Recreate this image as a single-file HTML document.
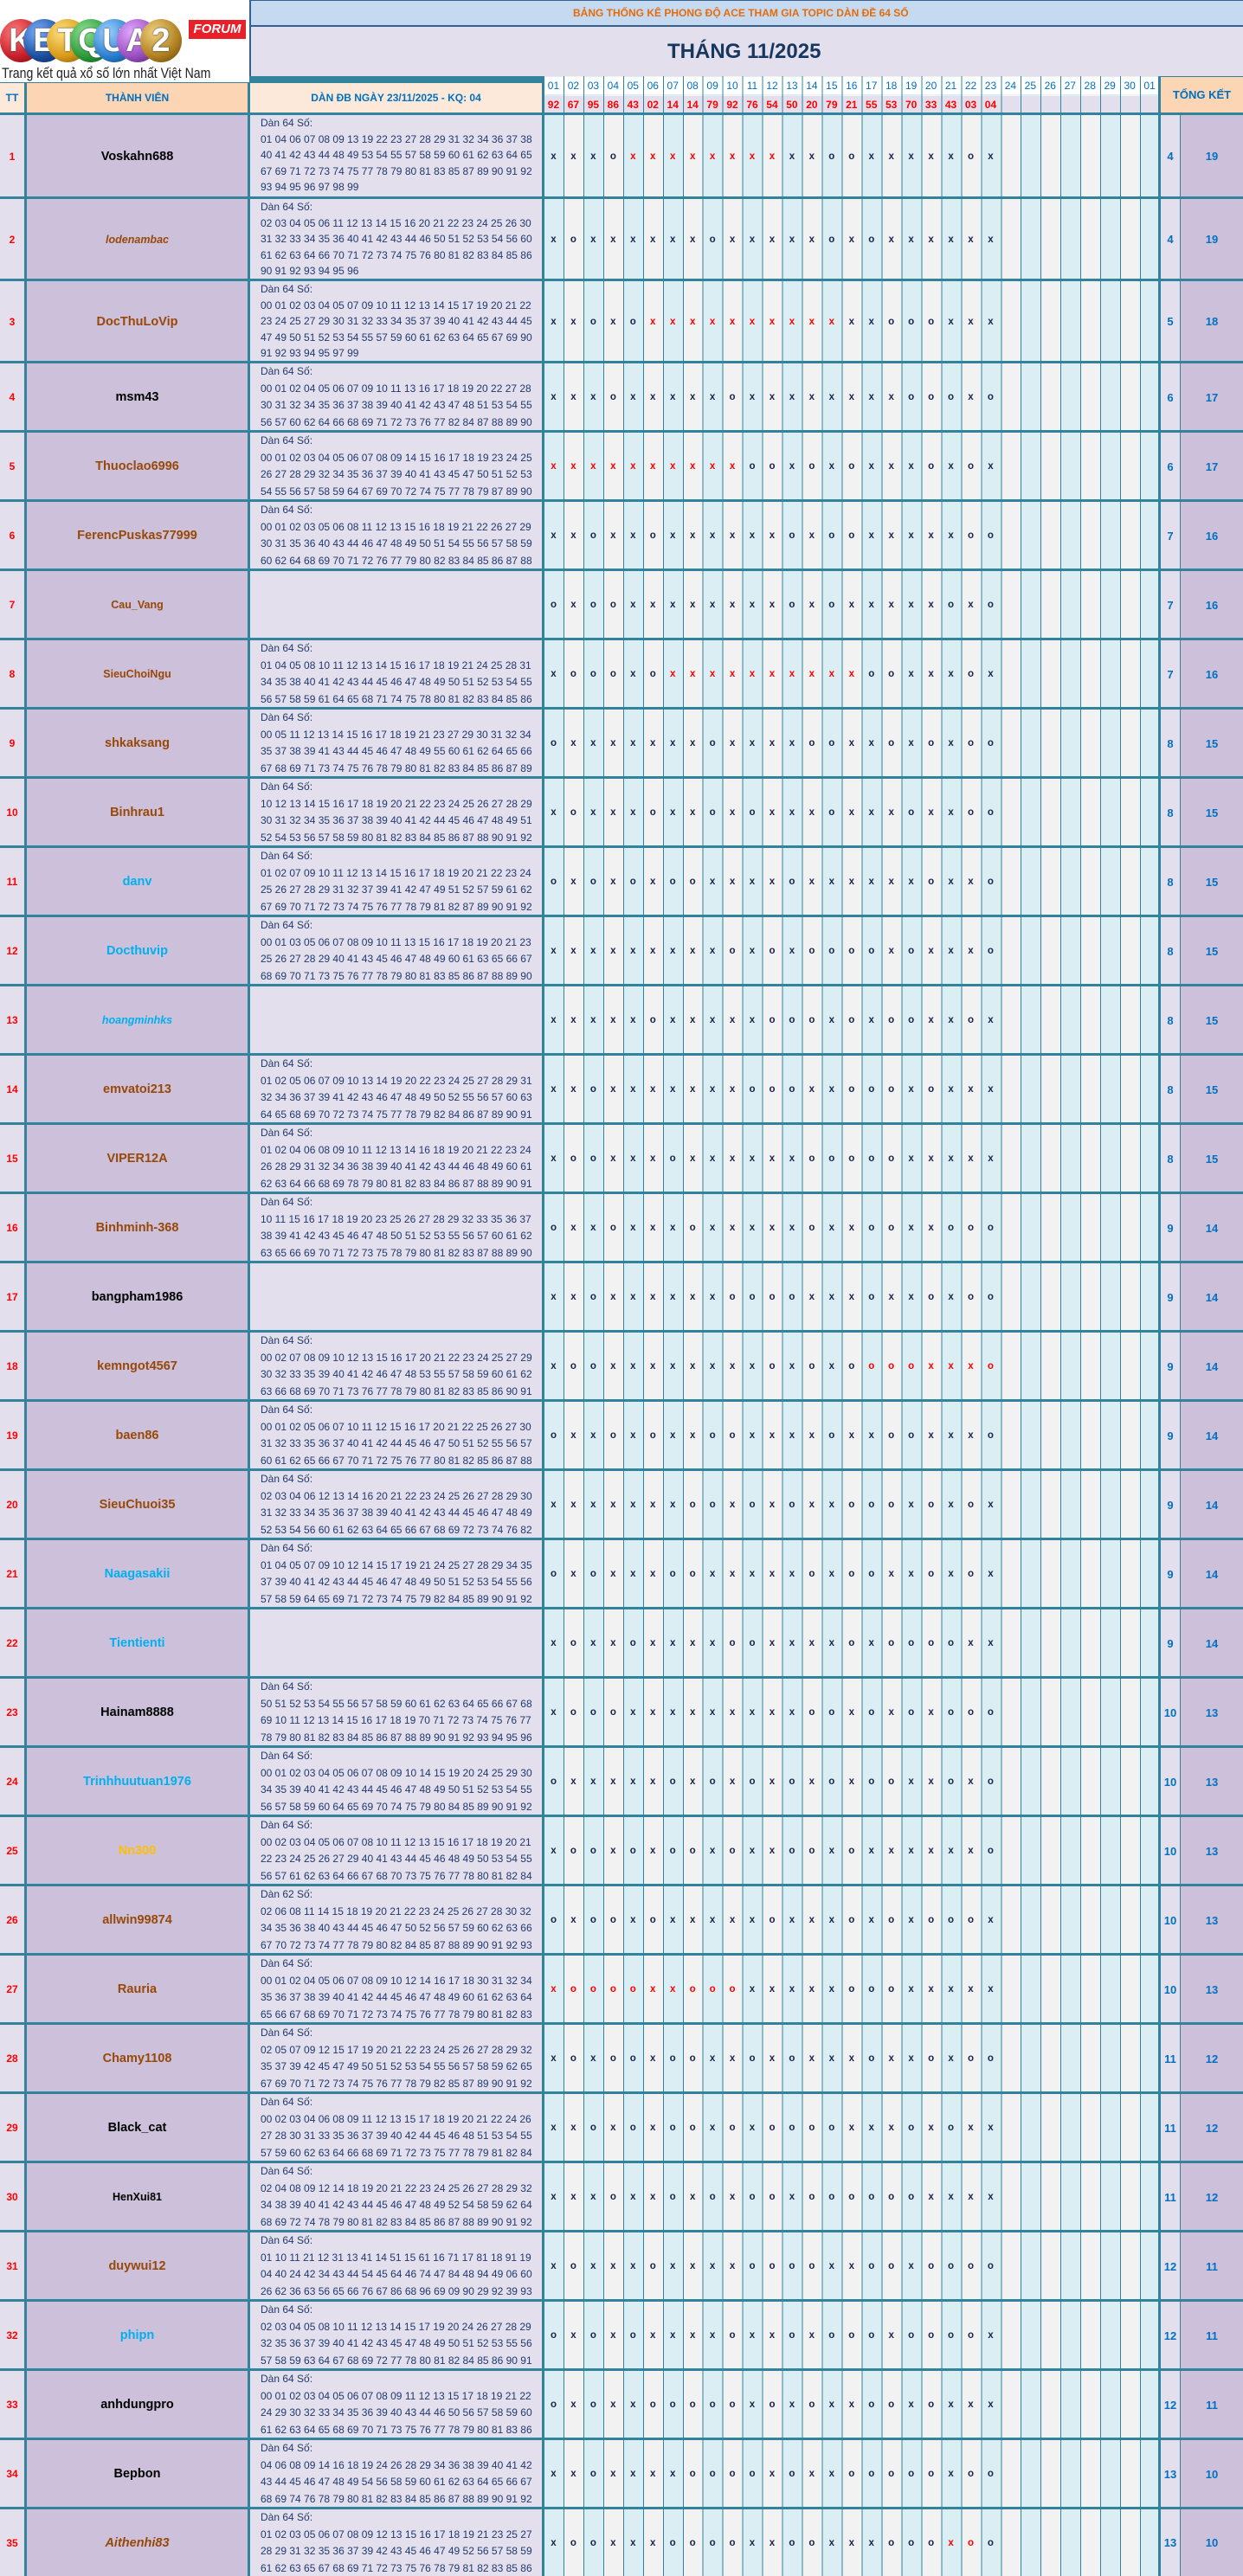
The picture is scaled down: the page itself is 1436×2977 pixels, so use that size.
<!DOCTYPE html>
<html><head><meta charset="utf-8">
<style>
body{margin:0;width:1436px;height:2977px;position:relative;background:#31849b;font-family:"Liberation Sans",sans-serif;overflow:hidden}
.a{position:absolute}
#days{left:628px;top:88px;width:712px;height:2889px;background:repeating-linear-gradient(90deg,#31849b 0 1px,#daeef3 1px 22.968px,#31849b 22.968px 23.968px,#f2f2f2 23.968px 45.935px)}
.r{position:absolute;left:0;width:1436px}
.r>div{position:absolute;top:2px;bottom:0}
.r>.hl{top:-1px;height:3px;bottom:auto;left:0;right:0;background:#31849b}
.tt{left:0;width:28px;background:#e4dfec;color:#f00;font-weight:bold;font-size:12px;display:flex;align-items:center;justify-content:center}
.nm{left:31px;width:255px;background:#ccc0da;display:flex;align-items:center;justify-content:center;font-weight:bold;font-size:14.5px;color:#984807}
.nm.k{color:#000}.nm.lb{color:#00b0f0}.nm.sm{font-size:12.5px}.nm.it{font-style:italic}.nm.y{color:#ffc000}
.dn{left:289px;width:337px;background:#e4dfec;color:#1f3a6e;font-size:12px;line-height:19.5px;padding-left:12px;box-sizing:border-box;white-space:pre;overflow:hidden}
.dn.d5{line-height:18.6px}
.mk{left:628px;width:712px;display:flex;align-items:center;font-weight:bold;font-size:11.5px;color:#17244f}
.mk i,.mk em,.hd i{font-style:normal;width:22.968px;flex:none;text-align:center}
.mk em{color:#f00}
.w,.t{display:flex;align-items:center;justify-content:center;color:#0070c0;font-weight:bold;font-size:13px}
.w{left:1341px;width:22px;background:#e4dfec}
.t{left:1364px;width:72px;background:#ccc0da}
.hd{display:flex;align-items:center;font-size:12px}
.c{position:absolute;top:22px;width:48px;height:50px;border-radius:50%;color:#fff;font-weight:bold;font-size:38px;line-height:50px;text-align:center;font-family:"Liberation Sans Narrow","Liberation Sans",sans-serif;text-shadow:0 0 2px #333}
</style></head><body>
<div id="days" class="a"></div>

<!-- logo -->
<div class="a" style="left:0;top:0;width:288px;height:95px;background:#fff"></div>
<div class="c" style="left:0;background:radial-gradient(circle at 35% 30%,#ff7b7b,#c8202a 60%,#6a0a10)">K</div>
<div class="c" style="left:27px;background:radial-gradient(circle at 35% 30%,#7ab0ff,#1c4fa0 60%,#0a2050)">E</div>
<div class="c" style="left:54px;background:radial-gradient(circle at 35% 30%,#ffe080,#d89a18 60%,#7a5008)">T</div>
<div class="c" style="left:81px;background:radial-gradient(circle at 35% 30%,#8fe08f,#2a9a3a 60%,#0d4a16)">Q</div>
<div class="c" style="left:108px;background:radial-gradient(circle at 35% 30%,#9fd0ff,#2a7fd0 60%,#0d3e70)">U</div>
<div class="c" style="left:135px;background:radial-gradient(circle at 35% 30%,#e0a8ff,#9a4fc0 60%,#4a1a66)">A</div>
<div class="c" style="left:162px;background:radial-gradient(circle at 35% 30%,#f0d080,#b08020 60%,#5a3e08)">2</div>
<div class="a" style="left:218px;top:23px;width:66px;height:22px;background:#e8202a;color:#fff;font-weight:bold;font-style:italic;font-size:15px;line-height:22px;text-align:center">FORUM</div>
<div class="a" style="left:2px;top:75px;font-size:17px;color:#222;white-space:nowrap;transform:scaleX(0.83);transform-origin:0 0">Trang kết quả xổ số lớn nhất Việt Nam</div>

<!-- title bands -->
<div class="a" style="left:288px;top:0;width:2px;height:88px;background:#366092"></div>
<div class="a" style="left:290px;top:0;width:1146px;height:29px;background:#c5d9f1;border-top:1px solid #366092;box-sizing:border-box"></div>
<div class="a" style="left:662px;top:8px;font-size:12px;font-weight:bold;color:#e46c0a;white-space:nowrap">BẢNG THỐNG KÊ PHONG ĐỘ ACE THAM GIA TOPIC DÀN ĐỀ 64 SỐ</div>
<div class="a" style="left:290px;top:29px;width:1146px;height:2px;background:#366092"></div>
<div class="a" style="left:290px;top:31px;width:1146px;height:57px;background:#e4dfec"></div>
<div class="a" style="left:771px;top:46px;font-size:24px;font-weight:bold;color:#17375e;white-space:nowrap">THÁNG 11/2025</div>

<!-- left header -->
<div class="a" style="left:0;top:96px;width:28px;height:34px;background:#fde9d9;color:#0070c0;font-weight:bold;font-size:12px;display:flex;align-items:center;justify-content:center">TT</div>
<div class="a" style="left:31px;top:96px;width:255px;height:34px;background:#fcd5b4;color:#0070c0;font-weight:bold;font-size:12px;display:flex;align-items:center;justify-content:center">THÀNH VIÊN</div>
<div class="a" style="left:289px;top:96px;width:337px;height:34px;background:#fde9d9;color:#0070c0;font-weight:bold;font-size:12px;display:flex;align-items:center;justify-content:center">DÀN ĐB NGÀY 23/11/2025 - KQ: 04</div>

<!-- day header -->
<div class="a hd" style="left:628px;top:89px;width:712px;height:20px;background:repeating-linear-gradient(90deg,#31849b 0 1px,#fff 1px 22.968px);color:#0070c0"><i>01</i><i>02</i><i>03</i><i>04</i><i>05</i><i>06</i><i>07</i><i>08</i><i>09</i><i>10</i><i>11</i><i>12</i><i>13</i><i>14</i><i>15</i><i>16</i><i>17</i><i>18</i><i>19</i><i>20</i><i>21</i><i>22</i><i>23</i><i>24</i><i>25</i><i>26</i><i>27</i><i>28</i><i>29</i><i>30</i><i>01</i></div>
<div class="a hd" style="left:628px;top:111px;width:712px;height:19px;background:repeating-linear-gradient(90deg,#31849b 0 1px,#e4dfec 1px 22.968px);color:#f00;font-weight:bold"><i>92</i><i>67</i><i>95</i><i>86</i><i>43</i><i>02</i><i>14</i><i>14</i><i>79</i><i>92</i><i>76</i><i>54</i><i>50</i><i>20</i><i>79</i><i>21</i><i>55</i><i>53</i><i>70</i><i>33</i><i>43</i><i>03</i><i>04</i></div>
<div class="a" style="left:1341px;top:89px;width:95px;height:41px;background:#fcd5b4;color:#0070c0;font-weight:bold;font-size:13px;display:flex;align-items:center;justify-content:center">TỔNG KẾT</div>

<!-- rows -->
<div class="r" style="top:131px;height:97px"><div class="hl"></div><div class="tt">1</div><div class="nm k">Voskahn688</div><div class="dn d5">Dàn 64 Số:
01 04 06 07 08 09 13 19 22 23 27 28 29 31 32 34 36 37 38
40 41 42 43 44 48 49 53 54 55 57 58 59 60 61 62 63 64 65
67 69 71 72 73 74 75 77 78 79 80 81 83 85 87 89 90 91 92
93 94 95 96 97 98 99</div><div class="mk"><i>x</i><i>x</i><i>x</i><i>o</i><em>x</em><em>x</em><em>x</em><em>x</em><em>x</em><em>x</em><em>x</em><em>x</em><i>x</i><i>x</i><i>o</i><i>o</i><i>x</i><i>x</i><i>x</i><i>x</i><i>x</i><i>o</i><i>x</i></div><div class="w">4</div><div class="t">19</div></div>

<div class="r" style="top:228px;height:95px"><div class="hl"></div><div class="tt">2</div><div class="nm sm it">lodenambac</div><div class="dn d5">Dàn 64 Số:
02 03 04 05 06 11 12 13 14 15 16 20 21 22 23 24 25 26 30
31 32 33 34 35 36 40 41 42 43 44 46 50 51 52 53 54 56 60
61 62 63 64 66 70 71 72 73 74 75 76 80 81 82 83 84 85 86
90 91 92 93 94 95 96</div><div class="mk"><i>x</i><i>o</i><i>x</i><i>x</i><i>x</i><i>x</i><i>x</i><i>x</i><i>o</i><i>x</i><i>x</i><i>x</i><i>x</i><i>x</i><i>o</i><i>x</i><i>o</i><i>x</i><i>x</i><i>x</i><i>x</i><i>x</i><i>x</i></div><div class="w">4</div><div class="t">19</div></div>

<div class="r" style="top:323px;height:95px"><div class="hl"></div><div class="tt">3</div><div class="nm">DocThuLoVip</div><div class="dn d5">Dàn 64 Số:
00 01 02 03 04 05 07 09 10 11 12 13 14 15 17 19 20 21 22
23 24 25 27 29 30 31 32 33 34 35 37 39 40 41 42 43 44 45
47 49 50 51 52 53 54 55 57 59 60 61 62 63 64 65 67 69 90
91 92 93 94 95 97 99</div><div class="mk"><i>x</i><i>x</i><i>o</i><i>x</i><i>o</i><em>x</em><em>x</em><em>x</em><em>x</em><em>x</em><em>x</em><em>x</em><em>x</em><em>x</em><em>x</em><i>x</i><i>x</i><i>o</i><i>o</i><i>o</i><i>x</i><i>x</i><i>x</i></div><div class="w">5</div><div class="t">18</div></div>

<div class="r" style="top:418px;height:80px"><div class="hl"></div><div class="tt">4</div><div class="nm k">msm43</div><div class="dn">Dàn 64 Số:
00 01 02 04 05 06 07 09 10 11 13 16 17 18 19 20 22 27 28
30 31 32 34 35 36 37 38 39 40 41 42 43 47 48 51 53 54 55
56 57 60 62 64 66 68 69 71 72 73 76 77 82 84 87 88 89 90</div><div class="mk"><i>x</i><i>x</i><i>x</i><i>o</i><i>x</i><i>x</i><i>x</i><i>x</i><i>x</i><i>o</i><i>x</i><i>x</i><i>x</i><i>x</i><i>x</i><i>x</i><i>x</i><i>x</i><i>o</i><i>o</i><i>o</i><i>x</i><i>o</i></div><div class="w">6</div><div class="t">17</div></div>

<div class="r" style="top:498px;height:80px"><div class="hl"></div><div class="tt">5</div><div class="nm">Thuoclao6996</div><div class="dn">Dàn 64 Số:
00 01 02 03 04 05 06 07 08 09 14 15 16 17 18 19 23 24 25
26 27 28 29 32 34 35 36 37 39 40 41 43 45 47 50 51 52 53
54 55 56 57 58 59 64 67 69 70 72 74 75 77 78 79 87 89 90</div><div class="mk"><em>x</em><em>x</em><em>x</em><em>x</em><em>x</em><em>x</em><em>x</em><em>x</em><em>x</em><em>x</em><i>o</i><i>o</i><i>x</i><i>o</i><i>x</i><i>o</i><i>x</i><i>x</i><i>x</i><i>o</i><i>x</i><i>o</i><i>x</i></div><div class="w">6</div><div class="t">17</div></div>

<div class="r" style="top:578px;height:80px"><div class="hl"></div><div class="tt">6</div><div class="nm">FerencPuskas77999</div><div class="dn">Dàn 64 Số:
00 01 02 03 05 06 08 11 12 13 15 16 18 19 21 22 26 27 29
30 31 35 36 40 43 44 46 47 48 49 50 51 54 55 56 57 58 59
60 62 64 68 69 70 71 72 76 77 79 80 82 83 84 85 86 87 88</div><div class="mk"><i>x</i><i>x</i><i>o</i><i>x</i><i>x</i><i>o</i><i>x</i><i>x</i><i>x</i><i>x</i><i>x</i><i>x</i><i>o</i><i>x</i><i>o</i><i>o</i><i>x</i><i>x</i><i>x</i><i>x</i><i>x</i><i>o</i><i>o</i></div><div class="w">7</div><div class="t">16</div></div>

<div class="r" style="top:658px;height:80px"><div class="hl"></div><div class="tt">7</div><div class="nm sm">Cau_Vang</div><div class="dn"></div><div class="mk"><i>o</i><i>x</i><i>o</i><i>o</i><i>x</i><i>x</i><i>x</i><i>x</i><i>x</i><i>x</i><i>x</i><i>x</i><i>o</i><i>x</i><i>o</i><i>x</i><i>x</i><i>x</i><i>x</i><i>x</i><i>o</i><i>x</i><i>o</i></div><div class="w">7</div><div class="t">16</div></div>

<div class="r" style="top:738px;height:80px"><div class="hl"></div><div class="tt">8</div><div class="nm sm">SieuChoiNgu</div><div class="dn">Dàn 64 Số:
01 04 05 08 10 11 12 13 14 15 16 17 18 19 21 24 25 28 31
34 35 38 40 41 42 43 44 45 46 47 48 49 50 51 52 53 54 55
56 57 58 59 61 64 65 68 71 74 75 78 80 81 82 83 84 85 86</div><div class="mk"><i>x</i><i>o</i><i>o</i><i>o</i><i>x</i><i>o</i><em>x</em><em>x</em><em>x</em><em>x</em><em>x</em><em>x</em><em>x</em><em>x</em><em>x</em><em>x</em><i>o</i><i>o</i><i>x</i><i>x</i><i>x</i><i>o</i><i>x</i></div><div class="w">7</div><div class="t">16</div></div>

<div class="r" style="top:818px;height:80px"><div class="hl"></div><div class="tt">9</div><div class="nm">shkaksang</div><div class="dn">Dàn 64 Số:
00 05 11 12 13 14 15 16 17 18 19 21 23 27 29 30 31 32 34
35 37 38 39 41 43 44 45 46 47 48 49 55 60 61 62 64 65 66
67 68 69 71 73 74 75 76 78 79 80 81 82 83 84 85 86 87 89</div><div class="mk"><i>o</i><i>x</i><i>x</i><i>x</i><i>x</i><i>x</i><i>x</i><i>x</i><i>o</i><i>x</i><i>x</i><i>x</i><i>x</i><i>o</i><i>o</i><i>x</i><i>x</i><i>o</i><i>x</i><i>o</i><i>x</i><i>o</i><i>o</i></div><div class="w">8</div><div class="t">15</div></div>

<div class="r" style="top:898px;height:80px"><div class="hl"></div><div class="tt">10</div><div class="nm">Binhrau1</div><div class="dn">Dàn 64 Số:
10 12 13 14 15 16 17 18 19 20 21 22 23 24 25 26 27 28 29
30 31 32 34 35 36 37 38 39 40 41 42 44 45 46 47 48 49 51
52 54 53 56 57 58 59 80 81 82 83 84 85 86 87 88 90 91 92</div><div class="mk"><i>x</i><i>o</i><i>x</i><i>x</i><i>x</i><i>o</i><i>x</i><i>x</i><i>o</i><i>x</i><i>o</i><i>x</i><i>x</i><i>x</i><i>o</i><i>x</i><i>x</i><i>x</i><i>o</i><i>x</i><i>x</i><i>o</i><i>o</i></div><div class="w">8</div><div class="t">15</div></div>

<div class="r" style="top:978px;height:80px"><div class="hl"></div><div class="tt">11</div><div class="nm lb">danv</div><div class="dn">Dàn 64 Số:
01 02 07 09 10 11 12 13 14 15 16 17 18 19 20 21 22 23 24
25 26 27 28 29 31 32 37 39 41 42 47 49 51 52 57 59 61 62
67 69 70 71 72 73 74 75 76 77 78 79 81 82 87 89 90 91 92</div><div class="mk"><i>o</i><i>x</i><i>o</i><i>x</i><i>o</i><i>x</i><i>o</i><i>o</i><i>x</i><i>x</i><i>x</i><i>x</i><i>o</i><i>x</i><i>x</i><i>x</i><i>x</i><i>x</i><i>x</i><i>o</i><i>x</i><i>x</i><i>o</i></div><div class="w">8</div><div class="t">15</div></div>

<div class="r" style="top:1058px;height:80px"><div class="hl"></div><div class="tt">12</div><div class="nm lb">Docthuvip</div><div class="dn">Dàn 64 Số:
00 01 03 05 06 07 08 09 10 11 13 15 16 17 18 19 20 21 23
25 26 27 28 29 40 41 43 45 46 47 48 49 60 61 63 65 66 67
68 69 70 71 73 75 76 77 78 79 80 81 83 85 86 87 88 89 90</div><div class="mk"><i>x</i><i>x</i><i>x</i><i>x</i><i>x</i><i>x</i><i>x</i><i>x</i><i>x</i><i>o</i><i>x</i><i>o</i><i>x</i><i>o</i><i>o</i><i>o</i><i>o</i><i>x</i><i>o</i><i>x</i><i>x</i><i>x</i><i>o</i></div><div class="w">8</div><div class="t">15</div></div>

<div class="r" style="top:1138px;height:80px"><div class="hl"></div><div class="tt">13</div><div class="nm lb sm it">hoangminhks</div><div class="dn"></div><div class="mk"><i>x</i><i>x</i><i>x</i><i>x</i><i>x</i><i>o</i><i>x</i><i>x</i><i>x</i><i>x</i><i>x</i><i>o</i><i>o</i><i>o</i><i>x</i><i>o</i><i>x</i><i>o</i><i>o</i><i>x</i><i>x</i><i>o</i><i>x</i></div><div class="w">8</div><div class="t">15</div></div>

<div class="r" style="top:1218px;height:80px"><div class="hl"></div><div class="tt">14</div><div class="nm">emvatoi213</div><div class="dn">Dàn 64 Số:
01 02 05 06 07 09 10 13 14 19 20 22 23 24 25 27 28 29 31
32 34 36 37 39 41 42 43 46 47 48 49 50 52 55 56 57 60 63
64 65 68 69 70 72 73 74 75 77 78 79 82 84 86 87 89 90 91</div><div class="mk"><i>x</i><i>x</i><i>o</i><i>x</i><i>x</i><i>x</i><i>x</i><i>x</i><i>x</i><i>x</i><i>o</i><i>o</i><i>o</i><i>x</i><i>x</i><i>o</i><i>o</i><i>o</i><i>x</i><i>o</i><i>x</i><i>x</i><i>x</i></div><div class="w">8</div><div class="t">15</div></div>

<div class="r" style="top:1298px;height:80px"><div class="hl"></div><div class="tt">15</div><div class="nm">VIPER12A</div><div class="dn">Dàn 64 Số:
01 02 04 06 08 09 10 11 12 13 14 16 18 19 20 21 22 23 24
26 28 29 31 32 34 36 38 39 40 41 42 43 44 46 48 49 60 61
62 63 64 66 68 69 78 79 80 81 82 83 84 86 87 88 89 90 91</div><div class="mk"><i>x</i><i>o</i><i>o</i><i>x</i><i>x</i><i>x</i><i>o</i><i>x</i><i>x</i><i>x</i><i>x</i><i>x</i><i>x</i><i>o</i><i>o</i><i>o</i><i>o</i><i>o</i><i>x</i><i>x</i><i>x</i><i>x</i><i>x</i></div><div class="w">8</div><div class="t">15</div></div>

<div class="r" style="top:1378px;height:80px"><div class="hl"></div><div class="tt">16</div><div class="nm">Binhminh-368</div><div class="dn">Dàn 64 Số:
10 11 15 16 17 18 19 20 23 25 26 27 28 29 32 33 35 36 37
38 39 41 42 43 45 46 47 48 50 51 52 53 55 56 57 60 61 62
63 65 66 69 70 71 72 73 75 78 79 80 81 82 83 87 88 89 90</div><div class="mk"><i>o</i><i>x</i><i>x</i><i>o</i><i>x</i><i>x</i><i>x</i><i>o</i><i>x</i><i>x</i><i>x</i><i>x</i><i>x</i><i>o</i><i>x</i><i>x</i><i>o</i><i>o</i><i>x</i><i>x</i><i>o</i><i>o</i><i>o</i></div><div class="w">9</div><div class="t">14</div></div>

<div class="r" style="top:1458px;height:80px"><div class="hl"></div><div class="tt">17</div><div class="nm k">bangpham1986</div><div class="dn"></div><div class="mk"><i>x</i><i>x</i><i>o</i><i>x</i><i>x</i><i>x</i><i>x</i><i>x</i><i>x</i><i>o</i><i>o</i><i>o</i><i>o</i><i>x</i><i>x</i><i>x</i><i>o</i><i>x</i><i>x</i><i>o</i><i>x</i><i>o</i><i>o</i></div><div class="w">9</div><div class="t">14</div></div>

<div class="r" style="top:1538px;height:80px"><div class="hl"></div><div class="tt">18</div><div class="nm">kemngot4567</div><div class="dn">Dàn 64 Số:
00 02 07 08 09 10 12 13 15 16 17 20 21 22 23 24 25 27 29
30 32 33 35 39 40 41 42 46 47 48 53 55 57 58 59 60 61 62
63 66 68 69 70 71 73 76 77 78 79 80 81 82 83 85 86 90 91</div><div class="mk"><i>x</i><i>o</i><i>o</i><i>x</i><i>x</i><i>x</i><i>x</i><i>x</i><i>x</i><i>x</i><i>x</i><i>o</i><i>x</i><i>o</i><i>x</i><i>o</i><em>o</em><em>o</em><em>o</em><em>x</em><em>x</em><em>x</em><em>o</em></div><div class="w">9</div><div class="t">14</div></div>

<div class="r" style="top:1618px;height:80px"><div class="hl"></div><div class="tt">19</div><div class="nm">baen86</div><div class="dn">Dàn 64 Số:
00 01 02 05 06 07 10 11 12 15 16 17 20 21 22 25 26 27 30
31 32 33 35 36 37 40 41 42 44 45 46 47 50 51 52 55 56 57
60 61 62 65 66 67 70 71 72 75 76 77 80 81 82 85 86 87 88</div><div class="mk"><i>o</i><i>x</i><i>x</i><i>o</i><i>x</i><i>o</i><i>x</i><i>x</i><i>o</i><i>o</i><i>x</i><i>x</i><i>x</i><i>x</i><i>o</i><i>x</i><i>x</i><i>o</i><i>o</i><i>x</i><i>x</i><i>x</i><i>o</i></div><div class="w">9</div><div class="t">14</div></div>

<div class="r" style="top:1698px;height:80px"><div class="hl"></div><div class="tt">20</div><div class="nm">SieuChuoi35</div><div class="dn">Dàn 64 Số:
02 03 04 06 12 13 14 16 20 21 22 23 24 25 26 27 28 29 30
31 32 33 34 35 36 37 38 39 40 41 42 43 44 45 46 47 48 49
52 53 54 56 60 61 62 63 64 65 66 67 68 69 72 73 74 76 82</div><div class="mk"><i>x</i><i>x</i><i>x</i><i>x</i><i>x</i><i>x</i><i>x</i><i>o</i><i>o</i><i>x</i><i>o</i><i>x</i><i>o</i><i>x</i><i>x</i><i>o</i><i>o</i><i>o</i><i>x</i><i>o</i><i>x</i><i>o</i><i>x</i></div><div class="w">9</div><div class="t">14</div></div>

<div class="r" style="top:1778px;height:80px"><div class="hl"></div><div class="tt">21</div><div class="nm lb">Naagasakii</div><div class="dn">Dàn 64 Số:
01 04 05 07 09 10 12 14 15 17 19 21 24 25 27 28 29 34 35
37 39 40 41 42 43 44 45 46 47 48 49 50 51 52 53 54 55 56
57 58 59 64 65 69 71 72 73 74 75 79 82 84 85 89 90 91 92</div><div class="mk"><i>o</i><i>x</i><i>o</i><i>x</i><i>x</i><i>x</i><i>o</i><i>o</i><i>x</i><i>x</i><i>x</i><i>x</i><i>x</i><i>o</i><i>x</i><i>o</i><i>o</i><i>x</i><i>x</i><i>o</i><i>x</i><i>o</i><i>x</i></div><div class="w">9</div><div class="t">14</div></div>

<div class="r" style="top:1858px;height:80px"><div class="hl"></div><div class="tt">22</div><div class="nm lb">Tientienti</div><div class="dn"></div><div class="mk"><i>x</i><i>o</i><i>x</i><i>x</i><i>o</i><i>x</i><i>x</i><i>x</i><i>x</i><i>o</i><i>o</i><i>x</i><i>x</i><i>x</i><i>x</i><i>o</i><i>x</i><i>o</i><i>o</i><i>o</i><i>o</i><i>x</i><i>x</i></div><div class="w">9</div><div class="t">14</div></div>

<div class="r" style="top:1938px;height:80px"><div class="hl"></div><div class="tt">23</div><div class="nm k">Hainam8888</div><div class="dn">Dàn 64 Số:
50 51 52 53 54 55 56 57 58 59 60 61 62 63 64 65 66 67 68
69 10 11 12 13 14 15 16 17 18 19 70 71 72 73 74 75 76 77
78 79 80 81 82 83 84 85 86 87 88 89 90 91 92 93 94 95 96</div><div class="mk"><i>x</i><i>o</i><i>o</i><i>o</i><i>x</i><i>x</i><i>x</i><i>x</i><i>x</i><i>x</i><i>x</i><i>x</i><i>x</i><i>o</i><i>o</i><i>x</i><i>o</i><i>x</i><i>o</i><i>x</i><i>o</i><i>o</i><i>o</i></div><div class="w">10</div><div class="t">13</div></div>

<div class="r" style="top:2018px;height:80px"><div class="hl"></div><div class="tt">24</div><div class="nm lb">Trinhhuutuan1976</div><div class="dn">Dàn 64 Số:
00 01 02 03 04 05 06 07 08 09 10 14 15 19 20 24 25 29 30
34 35 39 40 41 42 43 44 45 46 47 48 49 50 51 52 53 54 55
56 57 58 59 60 64 65 69 70 74 75 79 80 84 85 89 90 91 92</div><div class="mk"><i>o</i><i>x</i><i>x</i><i>x</i><i>x</i><i>x</i><i>o</i><i>x</i><i>o</i><i>x</i><i>o</i><i>x</i><i>o</i><i>x</i><i>o</i><i>x</i><i>o</i><i>o</i><i>x</i><i>x</i><i>o</i><i>x</i><i>o</i></div><div class="w">10</div><div class="t">13</div></div>

<div class="r" style="top:2098px;height:80px"><div class="hl"></div><div class="tt">25</div><div class="nm y">Nn300</div><div class="dn">Dàn 64 Số:
00 02 03 04 05 06 07 08 10 11 12 13 15 16 17 18 19 20 21
22 23 24 25 26 27 29 40 41 43 44 45 46 48 49 50 53 54 55
56 57 61 62 63 64 66 67 68 70 73 75 76 77 78 80 81 82 84</div><div class="mk"><i>x</i><i>o</i><i>o</i><i>x</i><i>o</i><i>x</i><i>o</i><i>o</i><i>x</i><i>o</i><i>x</i><i>x</i><i>o</i><i>o</i><i>x</i><i>o</i><i>x</i><i>x</i><i>x</i><i>x</i><i>x</i><i>x</i><i>o</i></div><div class="w">10</div><div class="t">13</div></div>

<div class="r" style="top:2178px;height:80px"><div class="hl"></div><div class="tt">26</div><div class="nm">allwin99874</div><div class="dn">Dàn 62 Số:
02 06 08 11 14 15 18 19 20 21 22 23 24 25 26 27 28 30 32
34 35 36 38 40 43 44 45 46 47 50 52 56 57 59 60 62 63 66
67 70 72 73 74 77 78 79 80 82 84 85 87 88 89 90 91 92 93</div><div class="mk"><i>o</i><i>x</i><i>o</i><i>o</i><i>x</i><i>o</i><i>x</i><i>x</i><i>x</i><i>x</i><i>x</i><i>o</i><i>x</i><i>x</i><i>x</i><i>o</i><i>x</i><i>o</i><i>x</i><i>o</i><i>o</i><i>o</i><i>x</i></div><div class="w">10</div><div class="t">13</div></div>

<div class="r" style="top:2258px;height:80px"><div class="hl"></div><div class="tt">27</div><div class="nm">Rauria</div><div class="dn">Dàn 64 Số:
00 01 02 04 05 06 07 08 09 10 12 14 16 17 18 30 31 32 34
35 36 37 38 39 40 41 42 44 45 46 47 48 49 60 61 62 63 64
65 66 67 68 69 70 71 72 73 74 75 76 77 78 79 80 81 82 83</div><div class="mk"><em>x</em><em>o</em><em>o</em><em>o</em><em>o</em><em>x</em><em>x</em><em>o</em><em>o</em><em>o</em><i>x</i><i>x</i><i>x</i><i>x</i><i>x</i><i>o</i><i>o</i><i>o</i><i>x</i><i>x</i><i>x</i><i>x</i><i>x</i></div><div class="w">10</div><div class="t">13</div></div>

<div class="r" style="top:2338px;height:80px"><div class="hl"></div><div class="tt">28</div><div class="nm">Chamy1108</div><div class="dn">Dàn 64 Số:
02 05 07 09 12 15 17 19 20 21 22 23 24 25 26 27 28 29 32
35 37 39 42 45 47 49 50 51 52 53 54 55 56 57 58 59 62 65
67 69 70 71 72 73 74 75 76 77 78 79 82 85 87 89 90 91 92</div><div class="mk"><i>x</i><i>o</i><i>x</i><i>o</i><i>o</i><i>x</i><i>o</i><i>o</i><i>x</i><i>x</i><i>o</i><i>x</i><i>o</i><i>x</i><i>x</i><i>x</i><i>o</i><i>x</i><i>x</i><i>o</i><i>x</i><i>o</i><i>o</i></div><div class="w">11</div><div class="t">12</div></div>

<div class="r" style="top:2418px;height:80px"><div class="hl"></div><div class="tt">29</div><div class="nm k">Black_cat</div><div class="dn">Dàn 64 Số:
00 02 03 04 06 08 09 11 12 13 15 17 18 19 20 21 22 24 26
27 28 30 31 33 35 36 37 39 40 42 44 45 46 48 51 53 54 55
57 59 60 62 63 64 66 68 69 71 72 73 75 77 78 79 81 82 84</div><div class="mk"><i>x</i><i>x</i><i>o</i><i>x</i><i>o</i><i>x</i><i>o</i><i>o</i><i>x</i><i>o</i><i>x</i><i>o</i><i>o</i><i>o</i><i>o</i><i>x</i><i>x</i><i>x</i><i>o</i><i>x</i><i>o</i><i>x</i><i>x</i></div><div class="w">11</div><div class="t">12</div></div>

<div class="r" style="top:2498px;height:80px"><div class="hl"></div><div class="tt">30</div><div class="nm k sm">HenXui81</div><div class="dn">Dàn 64 Số:
02 04 08 09 12 14 18 19 20 21 22 23 24 25 26 27 28 29 32
34 38 39 40 41 42 43 44 45 46 47 48 49 52 54 58 59 62 64
68 69 72 74 78 79 80 81 82 83 84 85 86 87 88 89 90 91 92</div><div class="mk"><i>x</i><i>x</i><i>x</i><i>o</i><i>x</i><i>x</i><i>o</i><i>x</i><i>o</i><i>x</i><i>o</i><i>o</i><i>x</i><i>o</i><i>o</i><i>o</i><i>o</i><i>o</i><i>o</i><i>x</i><i>x</i><i>x</i><i>x</i></div><div class="w">11</div><div class="t">12</div></div>

<div class="r" style="top:2578px;height:80px"><div class="hl"></div><div class="tt">31</div><div class="nm">duywui12</div><div class="dn">Dàn 64 Số:
01 10 11 21 12 31 13 41 14 51 15 61 16 71 17 81 18 91 19
04 40 24 42 34 43 44 54 45 64 46 74 47 84 48 94 49 06 60
26 62 36 63 56 65 66 76 67 86 68 96 69 09 90 29 92 39 93</div><div class="mk"><i>x</i><i>o</i><i>x</i><i>x</i><i>x</i><i>o</i><i>x</i><i>x</i><i>x</i><i>x</i><i>o</i><i>o</i><i>o</i><i>o</i><i>x</i><i>x</i><i>o</i><i>o</i><i>x</i><i>o</i><i>o</i><i>o</i><i>o</i></div><div class="w">12</div><div class="t">11</div></div>

<div class="r" style="top:2658px;height:80px"><div class="hl"></div><div class="tt">32</div><div class="nm lb">phipn</div><div class="dn">Dàn 64 Số:
02 03 04 05 08 10 11 12 13 14 15 17 19 20 24 26 27 28 29
32 35 36 37 39 40 41 42 43 45 47 48 49 50 51 52 53 55 56
57 58 59 63 64 67 68 69 72 77 78 80 81 82 84 85 86 90 91</div><div class="mk"><i>o</i><i>x</i><i>o</i><i>x</i><i>o</i><i>x</i><i>x</i><i>x</i><i>x</i><i>o</i><i>x</i><i>x</i><i>o</i><i>x</i><i>o</i><i>o</i><i>o</i><i>x</i><i>o</i><i>o</i><i>o</i><i>o</i><i>x</i></div><div class="w">12</div><div class="t">11</div></div>

<div class="r" style="top:2738px;height:80px"><div class="hl"></div><div class="tt">33</div><div class="nm k">anhdungpro</div><div class="dn">Dàn 64 Số:
00 01 02 03 04 05 06 07 08 09 11 12 13 15 17 18 19 21 22
24 29 30 32 33 34 35 36 39 40 43 44 46 50 56 57 58 59 60
61 62 63 64 65 68 69 70 71 73 75 76 77 78 79 80 81 83 86</div><div class="mk"><i>o</i><i>x</i><i>o</i><i>x</i><i>x</i><i>o</i><i>o</i><i>o</i><i>o</i><i>o</i><i>x</i><i>o</i><i>x</i><i>o</i><i>x</i><i>x</i><i>o</i><i>o</i><i>x</i><i>o</i><i>x</i><i>x</i><i>x</i></div><div class="w">12</div><div class="t">11</div></div>

<div class="r" style="top:2818px;height:80px"><div class="hl"></div><div class="tt">34</div><div class="nm k">Bepbon</div><div class="dn">Dàn 64 Số:
04 06 08 09 14 16 18 19 24 26 28 29 34 36 38 39 40 41 42
43 44 45 46 47 48 49 54 56 58 59 60 61 62 63 64 65 66 67
68 69 74 76 78 79 80 81 82 83 84 85 86 87 88 89 90 91 92</div><div class="mk"><i>x</i><i>x</i><i>o</i><i>x</i><i>x</i><i>x</i><i>x</i><i>o</i><i>o</i><i>o</i><i>o</i><i>x</i><i>o</i><i>x</i><i>x</i><i>o</i><i>o</i><i>o</i><i>o</i><i>o</i><i>x</i><i>o</i><i>o</i></div><div class="w">13</div><div class="t">10</div></div>

<div class="r" style="top:2898px;height:79px"><div class="hl"></div><div class="tt">35</div><div class="nm it">Aithenhi83</div><div class="dn">Dàn 64 Số:
01 02 03 05 06 07 08 09 12 13 15 16 17 18 19 21 23 25 27
28 29 31 32 35 36 37 39 42 43 45 46 47 49 52 56 57 58 59
61 62 63 65 67 68 69 71 72 73 75 76 78 79 81 82 83 85 86</div><div class="mk"><i>x</i><i>o</i><i>o</i><i>x</i><i>x</i><i>x</i><i>o</i><i>o</i><i>o</i><i>o</i><i>x</i><i>x</i><i>o</i><i>o</i><i>x</i><i>x</i><i>x</i><i>o</i><i>o</i><i>o</i><em>x</em><em>o</em><i>o</i></div><div class="w">13</div><div class="t">10</div></div>

<div class="a" style="left:1338px;top:88px;width:3px;height:2889px;background:#31849b"></div>
<div class="a" style="left:626px;top:96px;width:3px;height:2881px;background:#31849b"></div>
</body></html>
